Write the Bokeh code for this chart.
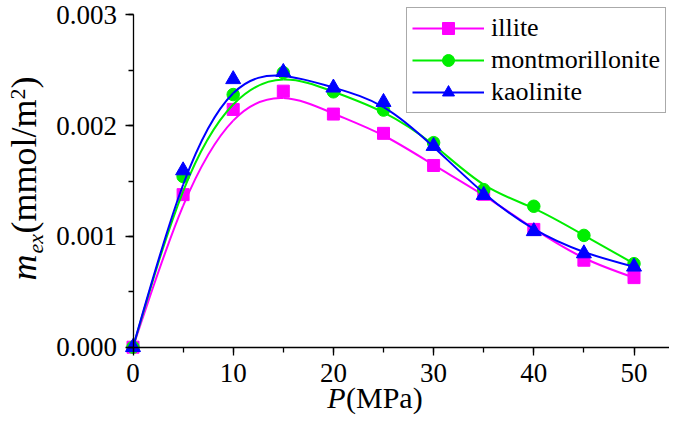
import math
from bokeh.plotting import figure
from bokeh.models import (Range1d, SingleIntervalTicker, PrintfTickFormatter,
                          Legend, LegendItem, Label)
from bokeh.embed import file_html
from bokeh.resources import INLINE

# ---- data ----
pressure = [0, 5, 10, 15, 20, 25, 30, 35, 40, 45, 50]
illite = [0.0, 1.377e-3, 2.146e-3, 2.311e-3, 2.104e-3, 1.930e-3, 1.640e-3,
          1.380e-3, 1.063e-3, 0.785e-3, 0.628e-3]
montmorillonite = [0.0, 1.541e-3, 2.280e-3, 2.478e-3, 2.305e-3, 2.140e-3,
                   1.846e-3, 1.422e-3, 1.272e-3, 1.009e-3, 0.754e-3]
kaolinite = [0.0, 1.595e-3, 2.418e-3, 2.483e-3, 2.342e-3, 2.212e-3,
             1.815e-3, 1.373e-3, 1.046e-3, 0.846e-3, 0.726e-3]
series_names = ["illite", "montmorillonite", "kaolinite"]
x_axis_bounds = (0, 55)
y_axis_bounds = (0, 0.003)
x_ticks_interval = 10
y_ticks_interval = 0.001

colors = ["#FF00FF", "#00EE00", "#0000FF"]
markers = ["square", "circle", "triangle"]
msizes = [12, 12.5, 15]

W, H = 669, 415
# pixel layout of the axes inside the canvas
X0P, XPX = 132.5, 10.02        # px of x=0, px per x unit
Y0P, YPX = 346.7, 110800.0     # px of y=0, px per y unit

x_range = Range1d((0 - X0P) / XPX, (W - X0P) / XPX)
y_range = Range1d((Y0P - H) / YPX, (Y0P - 0) / YPX)

p = figure(width=W, height=H, x_range=x_range, y_range=y_range,
           output_backend="svg", toolbar_location=None,
           min_border_left=0, min_border_right=0, min_border_top=0,
           min_border_bottom=0)
p.outline_line_color = None
p.xgrid.grid_line_color = None
p.ygrid.grid_line_color = None
p.background_fill_color = "white"
p.border_fill_color = "white"


def px2x(px):
    return (px - X0P) / XPX


def py2y(py):
    return (Y0P - py) / YPX


p.xaxis.fixed_location = 0
p.yaxis.fixed_location = 0
p.xaxis.bounds = x_axis_bounds
p.yaxis.bounds = y_axis_bounds

for ax in (p.xaxis[0], p.yaxis[0]):
    ax.axis_line_color = "black"
    ax.axis_line_width = 1.3
    ax.major_tick_line_width = 1.3
    ax.minor_tick_line_width = 1.3
    ax.major_tick_in = 0
    ax.major_tick_out = 8
    ax.minor_tick_in = 0
    ax.minor_tick_out = 5
    ax.major_label_text_font = "Liberation Serif"
    ax.major_label_text_font_size = "27px"
    ax.major_label_text_color = "black"

p.xaxis.ticker = SingleIntervalTicker(interval=x_ticks_interval, num_minor_ticks=2)
p.yaxis.ticker = SingleIntervalTicker(interval=y_ticks_interval, num_minor_ticks=2)
p.yaxis.formatter = PrintfTickFormatter(format="%.3f")
p.xaxis.major_label_standoff = 9
p.yaxis.major_label_standoff = 8


def bspline_bezier(xs, ys):
    """Cubic uniform B-spline (data points as control points) as Bezier segments."""
    n = len(xs)
    qx = [2 * xs[0] - xs[1]] + list(xs) + [2 * xs[-1] - xs[-2]]
    qy = [2 * ys[0] - ys[1]] + list(ys) + [2 * ys[-1] - ys[-2]]
    out = {k: [] for k in ("x0", "y0", "x1", "y1", "cx0", "cy0", "cx1", "cy1")}
    for j in range(n - 1):
        for q, s in ((qx, "x"), (qy, "y")):
            a, b, c, d = q[j], q[j + 1], q[j + 2], q[j + 3]
            out[s + "0"].append((a + 4 * b + c) / 6)
            out["c" + s + "0"].append((2 * b + c) / 3)
            out["c" + s + "1"].append((b + 2 * c) / 3)
            out[s + "1"].append((b + 4 * c + d) / 6)
    return out


items = []
for name, ys, col, mk, ms in zip(series_names, [illite, montmorillonite, kaolinite],
                                 colors, markers, msizes):
    bz = bspline_bezier(pressure, ys)
    br = p.bezier(line_color=col, line_width=2, **bz)
    sr = p.scatter(pressure, ys, marker=mk, size=ms, fill_color=col, line_color=col)
    items.append(LegendItem(label=name, renderers=[br, sr]))

legend = Legend(items=items, location=(406, 302), margin=0, padding=5, spacing=2,
                glyph_width=72, glyph_height=30, label_height=30, label_standoff=7,
                label_text_font="Liberation Serif", label_text_font_size="26px",
                label_text_color="black", border_line_color="#555555",
                border_line_width=1, background_fill_color="white",
                background_fill_alpha=1)
p.add_layout(legend)

BASE_SHIFT = 0.35  # em; compensates where Bokeh puts an alphabetic baseline

# ---- x-axis title: P(MPa) ----
xfs = 30
xl_base = 407 - BASE_SHIFT * xfs
p.add_layout(Label(x=px2x(326.7), y=py2y(xl_base), text="P", text_font="Liberation Serif",
                   text_font_style="italic", text_font_size=f"{xfs}px", text_align="left",
                   text_baseline="alphabetic", text_color="black"))
p.add_layout(Label(x=px2x(345.5), y=py2y(xl_base), text="(MPa)", text_font="Liberation Serif",
                   text_font_size=f"{xfs}px", text_align="left",
                   text_baseline="alphabetic", text_color="black"))

# ---- y-axis title: m_ex(mmol/m^2), rotated ----
big = 36
small = 22
yl_parts = [
    ("m", "italic", big, 36, 280),
    ("ex", "italic", small, 43, 253),
    ("(mmol/m", "normal", big, 36, 233),
    ("2", "normal", small, 25, 99),
    (")", "normal", big, 36, 88),
]
for txt, style, fs, bx, sy in yl_parts:
    p.add_layout(Label(x=px2x(bx - BASE_SHIFT * fs), y=py2y(sy), text=txt,
                       text_font="Liberation Serif",
                       text_font_style=style, text_font_size=f"{fs}px",
                       text_align="left", text_baseline="alphabetic",
                       angle=math.pi / 2, angle_units="rad", text_color="black"))

open("out.html", "w").write(file_html(p, INLINE))
